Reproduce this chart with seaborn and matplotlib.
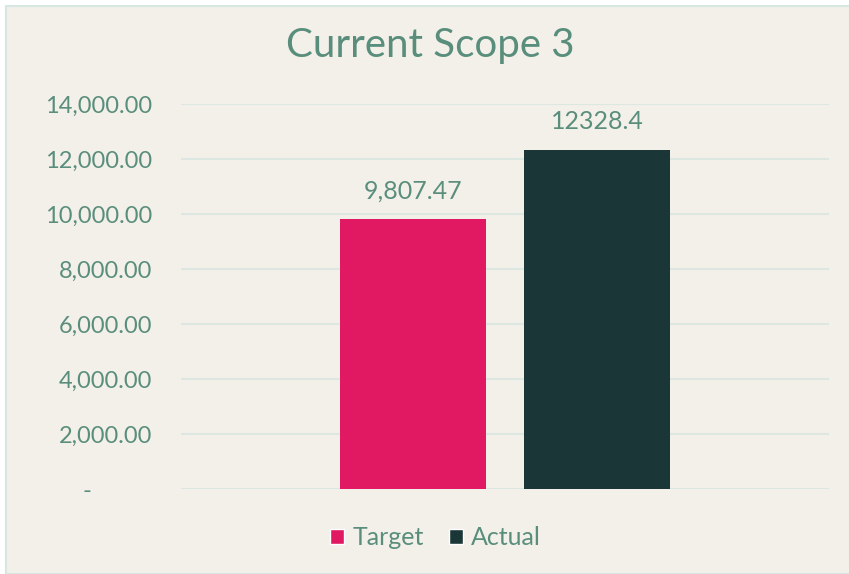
import numpy as np
import pandas as pd
import seaborn as sns
import matplotlib.pyplot as plt
from matplotlib.patches import Rectangle
from matplotlib.ticker import FuncFormatter

# data
series = ['Target', 'Actual']
values = [9807.47, 12328.4]
value_labels = ['9,807.47', '12328.4']
category = ['Current Scope 3']

BG = '#F3F0EA'
TXT = '#5A8E7C'
GRID = '#DCE7E2'
colors = ['#E11862', '#1A3636']

df = pd.DataFrame({'cat': category * len(series), 'series': series, 'value': values})

sns.set_theme(style='white')
plt.rcParams['font.family'] = ['Lato', 'DejaVu Sans']

fig = plt.figure(figsize=(8.49, 5.74), dpi=100)
fig.patch.set_facecolor('white')
# chart panel
fig.patches.append(Rectangle((6 / 849, 0), 1, 1 - 6 / 574, transform=fig.transFigure,
                             facecolor=BG, edgecolor='#D6E6E1', linewidth=1.5, zorder=-10))

ax = fig.add_axes([181 / 849, 1 - 489 / 574, 648 / 849, 385 / 574])
ax.set_facecolor(BG)

sns.barplot(data=df, x='cat', y='value', hue='series', palette=colors,
            width=0.57, gap=0.21, saturation=1, linewidth=0, ax=ax, legend=True)

ax.set_ylim(0, 14000)
ax.set_xlim(-0.5, 0.5)
ax.set_yticks(np.arange(0, 14001, 2000))
ax.yaxis.set_major_formatter(FuncFormatter(lambda v, p: '-          ' if v == 0 else f'{v:,.2f}'))
ax.tick_params(axis='y', length=0, pad=21, labelsize=17, labelcolor=TXT)
ax.set_xticks([])
ax.set_xlabel('')
ax.set_ylabel('')
ax.grid(axis='y', color=GRID, linewidth=1.5)
ax.set_axisbelow(True)
for s in ax.spines.values():
    s.set_visible(False)

for cont, lab in zip(ax.containers, value_labels):
    ax.bar_label(cont, labels=[lab], padding=12, fontsize=18, color=TXT)

ax.legend_.remove()
handles = [Rectangle((0, 0), 1, 1, facecolor=c) for c in colors]
fig.legend(handles, series, loc='center', bbox_to_anchor=(0.513, 0.063), ncol=2,
           frameon=False, fontsize=18, labelcolor=TXT, handlelength=0.55, handleheight=0.55,
           handletextpad=0.35, columnspacing=1.0)

fig.suptitle('Current Scope 3', x=0.5 + 6 / 849, y=1 - 45 / 574, va='center',
             fontsize=29, color=TXT)

plt.savefig('out.png', dpi=100, facecolor=fig.get_facecolor())
